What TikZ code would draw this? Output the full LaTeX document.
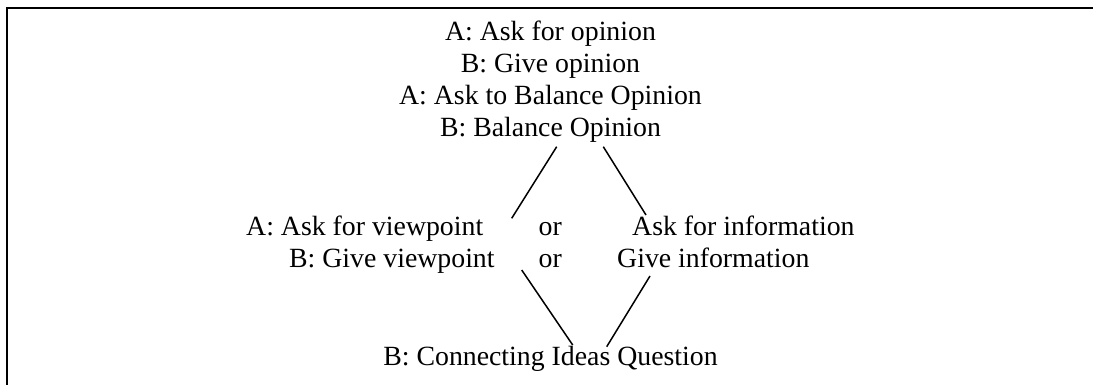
\documentclass[tikz,border=0pt]{standalone}
\usepackage{fontspec}
\setmainfont{Liberation Serif}
\begin{document}
\begin{tikzpicture}[x=1pt,y=-1pt,
  lbl/.style={inner sep=0pt, font=\fontsize{27.8}{32}\selectfont},
  link/.style={line width=1.5pt},
  framepath/.style={line width=1.8pt}]
\useasboundingbox (0,0) rectangle (1093,385);
\draw[framepath] (6.7,385) -- (6.7,8) -- (1093,8);
% top block
\node[lbl, anchor=base] (t1) at (550.5,41) {A: Ask for opinion};
\node[lbl, anchor=base] (t2) at (550.5,73) {B: Give opinion};
\node[lbl, anchor=base] (t3) at (550.5,105) {A: Ask to Balance Opinion};
\node[lbl, anchor=base] (t4) at (550.5,137) {B: Balance Opinion};
% middle rows
\node[lbl, anchor=base west] (v1) at (246,235) {A: Ask for viewpoint};
\node[lbl, anchor=base west] (v2) at (289,267) {B: Give viewpoint};
\node[lbl, anchor=base west] (o1) at (538.5,235) {or};
\node[lbl, anchor=base west] (o2) at (538.5,267) {or};
\node[lbl, anchor=base west] (i1) at (632,235) {Ask for information};
\node[lbl, anchor=base west] (i2) at (617,267) {Give information};
% bottom
\node[lbl, anchor=base] (c) at (550.5,365) {B: Connecting Ideas Question};
% connector end points
\coordinate (ulA) at (556.7,146.7);
\coordinate (ulB) at (511.7,218.3);
\coordinate (urA) at (603.3,146.7);
\coordinate (urB) at (646,215);
\coordinate (llA) at (521.7,270);
\coordinate (llB) at (572.7,345);
\coordinate (lrA) at (650,276);
\coordinate (lrB) at (606.7,346.7);
\draw[link] (ulA) -- (ulB);
\draw[link] (urA) -- (urB);
\draw[link] (llA) -- (llB);
\draw[link] (lrA) -- (lrB);
\end{tikzpicture}
\end{document}
